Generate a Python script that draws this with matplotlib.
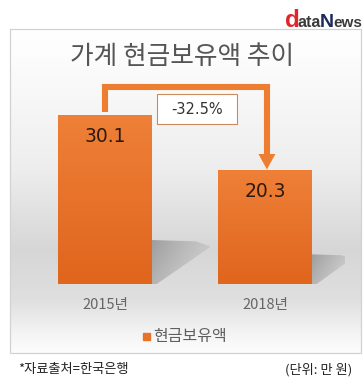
import numpy as np
import matplotlib
matplotlib.use("Agg")
import matplotlib.pyplot as plt
from matplotlib.patches import Rectangle, Polygon
from matplotlib.colors import LinearSegmentedColormap

# ---- data ----
categories = ["2015년", "2018년"]
values = [30.1, 20.3]
series_name = "현금보유액"
title = "가계 현금보유액 추이"
change_label = "-32.5%"
source_note = "*자료출처=한국은행"
unit_note = "(단위: 만 원)"

KR = ["Noto Sans CJK KR", "DejaVu Sans"]
plt.rcParams["font.family"] = KR

W, H = 363, 392
fig = plt.figure(figsize=(W / 100, H / 100), dpi=100)
fig.patch.set_facecolor("white")

# background axes in pixel coordinates
bg = fig.add_axes([0, 0, 1, 1], zorder=0)
bg.set_xlim(0, W)
bg.set_ylim(H, 0)
bg.axis("off")

# panel gradient
ys = np.linspace(29, 353, 300)
stops_y = [29, 90, 170, 250, 300, 335, 353]
stops_v = [1.0, 0.975, 0.93, 0.84, 0.875, 0.96, 0.99]
vals = np.interp(ys, stops_y, stops_v)
grad = np.repeat(vals[:, None], 2, axis=1)
grad = np.dstack([grad, grad, grad])
bg.imshow(grad, extent=[10, 361, 353, 29], aspect="auto", interpolation="bilinear", zorder=0)
bg.add_patch(Rectangle((10, 29), 351, 324, fill=False, edgecolor="#d2d2d2", lw=0.9, zorder=1))
bg.set_xlim(0, W)
bg.set_ylim(H, 0)

# logo
bg.text(285, 27, "d", color="#e2242b", fontsize=17.5, fontweight="bold", family="Liberation Sans", va="baseline", zorder=3)
bg.text(298, 27, "ata", color="#3a3a3a", fontsize=11.5, fontweight="bold", family="Liberation Sans", va="baseline", zorder=3)
bg.text(320, 27, "N", color="#1d2a5a", fontsize=14, fontweight="bold", family="Liberation Sans", va="baseline", zorder=3)
bg.text(333.5, 27, "ews", color="#3a3a3a", fontsize=11, fontweight="bold", family="Liberation Sans", va="baseline", zorder=3)

# title
bg.text(182, 57, title, color="#555555", fontsize=18.5, ha="center", va="center", zorder=3)

# legend
bar_top_color = "#ef8037"
bar_bot_color = "#e0651d"
bg.add_patch(Rectangle((143, 333), 7, 7, color="#e8722a", zorder=3))
bg.text(153, 336.5, series_name, color="#5f5f5f", fontsize=11.5, ha="left", va="center", zorder=3)

# footer notes
bg.text(18, 370, source_note, color="#222222", fontsize=9.5, ha="left", va="center", zorder=3)
bg.text(352, 370, unit_note, color="#222222", fontsize=9.5, ha="right", va="center", zorder=3)

# ---- bar axes ----
base_px = 284
px_per_unit = 5.615
ymax = 40
ax = fig.add_axes([25 / W, (H - base_px) / H, 320 / W, ymax * px_per_unit / H], zorder=1)
ax.patch.set_alpha(0)
x = np.arange(len(values))
bw = 0.5875
bars = ax.bar(x, values, width=bw, color="none", edgecolor="none", zorder=2)
ax.set_xlim(-0.5, 1.5)
ax.set_ylim(0, ymax)
ax.axis("off")

cmap = LinearSegmentedColormap.from_list("bar", [bar_bot_color, bar_top_color])
shadow_cmap = LinearSegmentedColormap.from_list("sh", [(0.58, 0.58, 0.58, 0.85), (0.72, 0.72, 0.72, 0.0)])
for xi, v, b in zip(x, values, bars):
    g = np.linspace(0, 1, 200)[:, None]
    im = ax.imshow(g, extent=[xi - bw / 2, xi + bw / 2, 0, v], origin="lower", cmap=cmap,
                   aspect="auto", interpolation="bilinear", zorder=2)
    im.set_clip_path(b)
    # cast shadow
    xr = xi + bw / 2
    sh_h = 0.26 * v
    sh_w = 0.0122 * v
    poly = Polygon([(xr, 0), (xr, sh_h), (xr + sh_w * 0.75, sh_h * 0.97), (xr + sh_w, sh_h * 0.85),
                    (xr + 0.03, 0)], closed=True, facecolor="none", edgecolor="none")
    ax.add_patch(poly)
    gx = np.linspace(0, 1, 100)[None, :]
    gy = np.linspace(0, 1, 100)[:, None]
    gs = np.clip(gx * 0.6 + (1 - gy) * 0.25, 0, 1)
    ims = ax.imshow(gs, extent=[xr, xr + sh_w, 0, sh_h], origin="lower", cmap=shadow_cmap,
                    aspect="auto", interpolation="bilinear", zorder=1, vmin=0, vmax=1)
    ims.set_clip_path(poly)
    ax.text(xi, v - 3.8, f"{v:.1f}", color="#2a1a12", fontsize=13.5, family="DejaVu Sans",
            ha="center", va="center", zorder=4)
    ax.text(xi, -3.75, categories[xi], color="#666666", fontsize=10.5, ha="center", va="center",
            zorder=4, clip_on=False)

ax.set_xlim(-0.5, 1.5)
ax.set_ylim(0, ymax)

# connector arrow
arrow_color = "#ed7d31"
ytop = 35.1
x0, x1 = x[0], x[1] + 0.012
head_len = 2.85
head_hw = 0.053
ax.plot([x0, x0, x1, x1], [values[0] + 0.6, ytop, ytop, values[1] + head_len],
        color=arrow_color, lw=4.4, solid_joinstyle="miter", solid_capstyle="butt", zorder=3)
ax.fill([x1 - head_hw, x1 + head_hw, x1], [values[1] + head_len, values[1] + head_len, values[1] + 0.1],
        color=arrow_color, zorder=3, lw=0)

# change label box
bx0, bx1 = 0.325, 0.825
by0, by1 = 28.5, 33.8
ax.add_patch(Rectangle((bx0, by0), bx1 - bx0, by1 - by0, facecolor="white", edgecolor="#c98a5e",
                       lw=0.8, zorder=4))
ax.text((bx0 + bx1) / 2, (by0 + by1) / 2, change_label, color="#333333", fontsize=10.5,
        family="DejaVu Sans", ha="center", va="center", zorder=5)

fig.savefig("out.png", dpi=100)
